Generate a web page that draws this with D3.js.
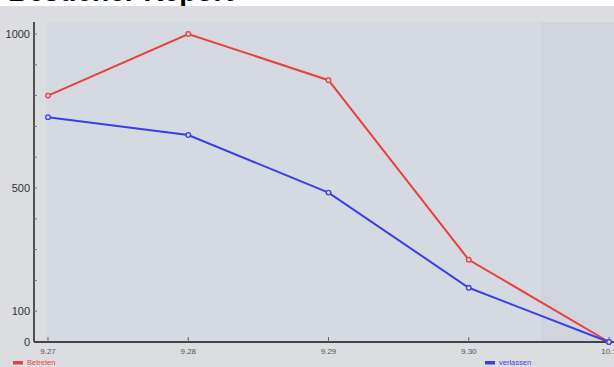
<!DOCTYPE html>
<html>
<head>
<meta charset="utf-8">
<script src="https://cdn.jsdelivr.net/npm/d3@7"></script>
<style>
  body { margin: 0; background: #fff; }
  svg { display: block; font-family: "Liberation Sans", Arial, sans-serif; }
</style>
</head>
<body>
<div id="chart"></div>
<script>
// chart data
var days = ["9.27", "9.28", "9.29", "9.30", "10.1"];
var betreten = [800, 1000, 850, 267, 0];
var verlassen = [730, 672, 485, 176, 0];
var yLabels = [0, 100, 500, 1000];
var yMinor = [0, 100, 200, 300, 400, 500, 600, 700, 800, 900, 1000];
var seriesNames = ["Betreten", "verlassen"];

var width = 614, height = 367;

var svg = d3.select("#chart")
    .append("svg")
    .attr("width", width)
    .attr("height", height);

// title (mostly cut off at the top, like in the screenshot)
svg.append("text")
    .attr("x", 8)
    .attr("y", 1)
    .style("font-size", "28px")
    .style("font-weight", "bold")
    .style("fill", "#000")
    .text("Besucher Report");

// backgrounds
svg.append("rect")
    .attr("x", 0).attr("y", 6)
    .attr("width", width).attr("height", height - 6)
    .attr("fill", "#dcdde0");
svg.append("rect")
    .attr("x", 46).attr("y", 22)
    .attr("width", width - 46).attr("height", 320)
    .attr("fill", "#d5d9e1");
svg.append("rect")
    .attr("x", 541).attr("y", 22)
    .attr("width", width - 541).attr("height", 320)
    .attr("fill", "#d0d4dc");

// scales
var x = d3.scalePoint()
    .domain(days)
    .range([48, 609]);

var y = d3.scaleLinear()
    .domain([0, 1000])
    .range([342, 34]);

// y axis
var yAxis = svg.append("g")
    .attr("transform", "translate(34,0)");
yAxis.append("line")
    .attr("x1", 0).attr("x2", 0)
    .attr("y1", 22).attr("y2", 342)
    .attr("stroke", "#222")
    .attr("stroke-width", 1.5);
yAxis.selectAll(".minor")
    .data(yMinor)
    .enter()
    .append("line")
    .attr("x1", 0).attr("x2", 3)
    .attr("y1", function(d) { return y(d); })
    .attr("y2", function(d) { return y(d); })
    .attr("stroke", "#777")
    .attr("stroke-width", 1);
yAxis.selectAll(".lbl")
    .data(yLabels)
    .enter()
    .append("text")
    .attr("x", -4)
    .attr("y", function(d) { return y(d); })
    .attr("dy", "0.35em")
    .attr("text-anchor", "end")
    .style("font-size", "11px")
    .style("fill", "#333")
    .text(function(d) { return d; });

// x axis
var xAxis = svg.append("g")
    .attr("transform", "translate(0,342)");
xAxis.append("line")
    .attr("x1", 34).attr("x2", width)
    .attr("y1", 0).attr("y2", 0)
    .attr("stroke", "#444")
    .attr("stroke-width", 2);
xAxis.selectAll(".tick")
    .data(days)
    .enter()
    .append("line")
    .attr("x1", function(d) { return x(d); })
    .attr("x2", function(d) { return x(d); })
    .attr("y1", -5).attr("y2", 0)
    .attr("stroke", "#666");
xAxis.selectAll(".lbl")
    .data(days)
    .enter()
    .append("text")
    .attr("x", function(d) { return x(d); })
    .attr("y", 12)
    .attr("text-anchor", "middle")
    .style("font-size", "8px")
    .style("fill", "#555")
    .text(function(d) { return d; });

// lines
var line = d3.line()
    .x(function(d, i) { return x(days[i]); })
    .y(function(d) { return y(d); });

var series = [
    { name: seriesNames[0], values: betreten, color: "#e8403f" },
    { name: seriesNames[1], values: verlassen, color: "#3b3de8" }
];

series.forEach(function(s) {
    svg.append("path")
        .datum(s.values)
        .attr("fill", "none")
        .attr("stroke", s.color)
        .attr("stroke-width", 2)
        .attr("d", line);
    svg.append("g")
        .selectAll("circle")
        .data(s.values)
        .enter()
        .append("circle")
        .attr("cx", function(d, i) { return x(days[i]); })
        .attr("cy", function(d) { return y(d); })
        .attr("r", 2.3)
        .attr("fill", "#d5d9e1")
        .attr("stroke", s.color)
        .attr("stroke-width", 1.3);
});

// legend
var legendX = [13, 485];
series.forEach(function(s, i) {
    svg.append("rect")
        .attr("x", legendX[i]).attr("y", 361)
        .attr("width", 10).attr("height", 3.5)
        .attr("fill", s.color);
    svg.append("text")
        .attr("x", legendX[i] + 14)
        .attr("y", 365)
        .style("font-size", "7.5px")
        .style("fill", s.color)
        .text(s.name);
});
</script>
</body>
</html>
